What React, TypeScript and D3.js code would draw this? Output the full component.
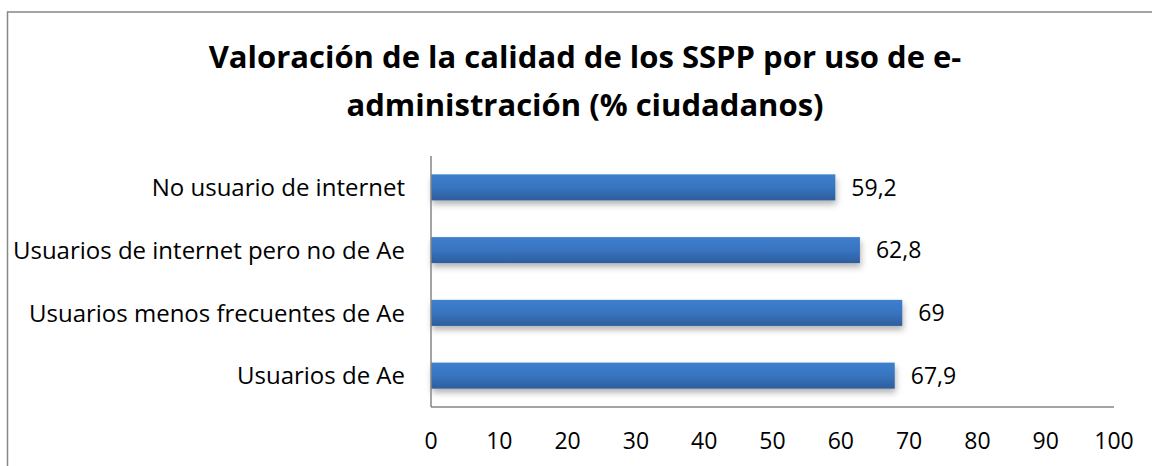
import { useEffect, useRef } from 'react';
import * as d3 from 'd3';

const categories = [
  'No usuario de internet',
  'Usuarios de internet pero no de Ae',
  'Usuarios menos frecuentes de Ae',
  'Usuarios de Ae',
];
const values = [59.2, 62.8, 69, 67.9];
const labels = ['59,2', '62,8', '69', '67,9'];
const xTicks = [0, 10, 20, 30, 40, 50, 60, 70, 80, 90, 100];
const titleLines = [
  'Valoración de la calidad de los SSPP por uso de e-',
  'administración (% ciudadanos)',
];

const App = () => {
  const svgRef = useRef(null);

  useEffect(() => {
    const svg = d3.select(svgRef.current);
    svg.selectAll('*').remove();

    const width = 1152;
    const height = 466;
    const font = '"Open Sans", sans-serif';
    const plot = { left: 431, right: 1114, top: 156, bottom: 407 };

    const defs = svg.append('defs');
    const grad = defs
      .append('linearGradient')
      .attr('id', 'barGrad')
      .attr('x1', 0)
      .attr('y1', 0)
      .attr('x2', 0)
      .attr('y2', 1);
    grad.append('stop').attr('offset', '0%').attr('stop-color', '#3d7fce');
    grad.append('stop').attr('offset', '50%').attr('stop-color', '#3874c0');
    grad.append('stop').attr('offset', '100%').attr('stop-color', '#2d5d9c');

    const shadow = defs
      .append('filter')
      .attr('id', 'shadow')
      .attr('x', '-5%')
      .attr('y', '-20%')
      .attr('width', '110%')
      .attr('height', '180%');
    shadow
      .append('feDropShadow')
      .attr('dx', 1)
      .attr('dy', 4)
      .attr('stdDeviation', 3)
      .attr('flood-color', '#000')
      .attr('flood-opacity', 0.3);

    // fondo y borde
    svg.append('rect').attr('width', width).attr('height', height).attr('fill', '#fff');
    svg
      .append('rect')
      .attr('x', 7.5)
      .attr('y', 12)
      .attr('width', 1160)
      .attr('height', 480)
      .attr('fill', 'none')
      .attr('stroke', '#878787')
      .attr('stroke-width', 1.5);

    // título
    svg
      .append('g')
      .selectAll('text')
      .data(titleLines)
      .enter()
      .append('text')
      .attr('x', 585)
      .attr('y', (_d, i) => 68 + i * 48)
      .attr('text-anchor', 'middle')
      .attr('font-family', font)
      .attr('font-weight', 'bold')
      .attr('font-size', '31px')
      .attr('fill', '#000')
      .text((d) => d);

    const xScale = d3.scaleLinear().domain([0, 100]).range([plot.left, plot.right]);
    const yScale = d3
      .scaleBand()
      .domain(categories)
      .range([plot.top, plot.bottom])
      .paddingInner(0.585)
      .paddingOuter(0.2925);

    // barras
    svg
      .append('g')
      .selectAll('rect')
      .data(values)
      .enter()
      .append('rect')
      .attr('x', xScale(0))
      .attr('y', (_d, i) => yScale(categories[i])!)
      .attr('width', (d) => xScale(d) - xScale(0))
      .attr('height', yScale.bandwidth())
      .attr('fill', 'url(#barGrad)')
      .attr('filter', 'url(#shadow)');

    // etiquetas de datos
    svg
      .append('g')
      .selectAll('text')
      .data(values)
      .enter()
      .append('text')
      .attr('x', (d) => xScale(d) + 16)
      .attr('y', (_d, i) => yScale(categories[i])! + yScale.bandwidth() / 2)
      .attr('dy', '0.36em')
      .attr('font-family', font)
      .attr('font-size', '23px')
      .attr('fill', '#000')
      .text((_d, i) => labels[i]);

    // ejes
    svg
      .append('line')
      .attr('x1', plot.left)
      .attr('x2', plot.left)
      .attr('y1', plot.top)
      .attr('y2', plot.bottom)
      .attr('stroke', '#868686')
      .attr('stroke-width', 1.5);
    svg
      .append('line')
      .attr('x1', plot.left)
      .attr('x2', plot.right)
      .attr('y1', plot.bottom)
      .attr('y2', plot.bottom)
      .attr('stroke', '#868686')
      .attr('stroke-width', 1.5);

    svg
      .append('g')
      .selectAll('text')
      .data(categories)
      .enter()
      .append('text')
      .attr('x', 405)
      .attr('y', (d) => yScale(d)! + yScale.bandwidth() / 2)
      .attr('dy', '0.36em')
      .attr('text-anchor', 'end')
      .attr('font-family', font)
      .attr('font-size', '24px')
      .attr('fill', '#000')
      .text((d) => d);

    svg
      .append('g')
      .selectAll('text')
      .data(xTicks)
      .enter()
      .append('text')
      .attr('x', (d) => xScale(d))
      .attr('y', 441)
      .attr('dy', '0.36em')
      .attr('text-anchor', 'middle')
      .attr('font-family', font)
      .attr('font-size', '23px')
      .attr('fill', '#000')
      .text((d) => d);
  }, []);

  return (
    <svg
      ref={svgRef}
      width={1152}
      height={466}
      style={{ position: 'absolute', left: 0, top: 0, display: 'block' }}
    ></svg>
  );
};

export default App;
